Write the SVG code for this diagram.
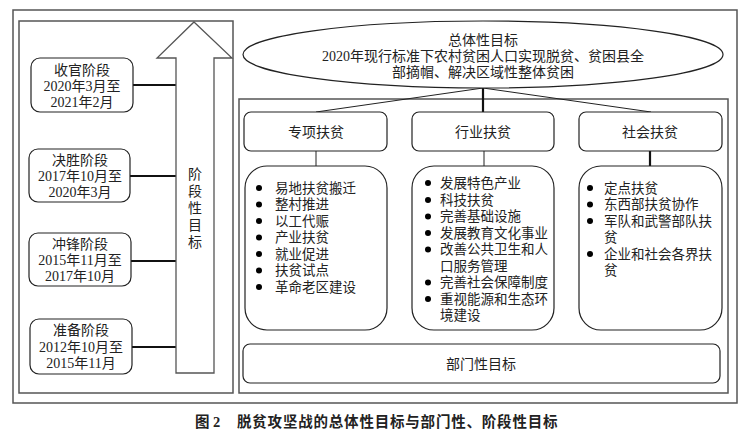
<svg xmlns="http://www.w3.org/2000/svg" width="751" height="439" viewBox="0 0 751 439">
<style>
text{font-family:"Liberation Serif","Noto Sans CJK SC",serif;fill:#222;dominant-baseline:central}
.t14{font-size:14px}
.t135{font-size:13.5px}
.frame{fill:none;stroke:#555;stroke-width:1.5}
.box{fill:#fff;stroke:#222;stroke-width:1.2}
.thin{stroke:#222;stroke-width:1;fill:none}
.thick{stroke:#111;stroke-width:2.2;fill:none}
.mid{text-anchor:middle}
</style>
<rect width="751" height="439" fill="#fff"/>
<g id="frames">
<rect class="frame" x="13" y="10" width="724" height="393"/>
<rect class="frame" x="19" y="21" width="214" height="372"/>
<rect class="frame" x="239" y="99" width="489" height="294"/>
</g>
<g id="connectors">
<line class="thin" x1="483" y1="88" x2="316" y2="112"/>
<line class="thick" x1="483" y1="88" x2="483" y2="112"/>
<line class="thin" x1="483" y1="88" x2="651" y2="112"/>
<line class="thin" x1="316" y1="151" x2="316" y2="166"/>
<line class="thin" x1="484" y1="151" x2="484" y2="166"/>
<line class="thick" x1="650" y1="151" x2="650" y2="166"/>
<line class="thick" x1="133" y1="85" x2="176" y2="85"/>
<line class="thick" x1="130" y1="176" x2="176" y2="176"/>
<line class="thick" x1="131" y1="261" x2="176" y2="261"/>
<line class="thick" x1="132" y1="347" x2="176" y2="347"/>
</g>
<g id="arrow">
<polygon points="194,22 232,58 214,58 214,373 176,373 176,58 157,58" fill="#fff" stroke="#555" stroke-width="1.3"/>
<text class="t14 mid" x="195" y="174">阶</text>
<text class="t14 mid" x="195" y="191">段</text>
<text class="t14 mid" x="195" y="208">性</text>
<text class="t14 mid" x="195" y="225">目</text>
<text class="t14 mid" x="195" y="242">标</text>
</g>
<g id="stage1">
<rect class="box" x="31" y="58" width="102" height="54" rx="9"/>
<text class="t14 mid" x="82" y="70">收官阶段</text>
<text class="t14 mid" x="82" y="86">2020年3月至</text>
<text class="t14 mid" x="82" y="102">2021年2月</text>
</g>
<g id="stage2">
<rect class="box" x="29" y="149" width="101" height="53" rx="9"/>
<text class="t14 mid" x="80" y="160">决胜阶段</text>
<text class="t14 mid" x="80" y="176">2017年10月至</text>
<text class="t14 mid" x="80" y="192">2020年3月</text>
</g>
<g id="stage3">
<rect class="box" x="29" y="233" width="102" height="53" rx="9"/>
<text class="t14 mid" x="80" y="244">冲锋阶段</text>
<text class="t14 mid" x="80" y="260">2015年11月至</text>
<text class="t14 mid" x="80" y="276">2017年10月</text>
</g>
<g id="stage4">
<rect class="box" x="30" y="319" width="102" height="55" rx="9"/>
<text class="t14 mid" x="81" y="330">准备阶段</text>
<text class="t14 mid" x="81" y="347">2012年10月至</text>
<text class="t14 mid" x="81" y="363">2015年11月</text>
</g>
<g id="overall">
<ellipse cx="483" cy="54.5" rx="240" ry="33.5" fill="#fff" stroke="#222" stroke-width="1.2"/>
<text class="t14 mid" x="483" y="40">总体性目标</text>
<text class="t14 mid" x="483" y="56">2020年现行标准下农村贫困人口实现脱贫、贫困县全</text>
<text class="t14 mid" x="483" y="72">部摘帽、解决区域性整体贫困</text>
</g>
<g id="head1">
<rect class="box" x="244" y="112" width="143" height="39" rx="7"/>
<text class="t14 mid" x="316" y="132">专项扶贫</text>
</g>
<g id="head2">
<rect class="box" x="412" y="112" width="142" height="39" rx="7"/>
<text class="t14 mid" x="483" y="132">行业扶贫</text>
</g>
<g id="head3">
<rect class="box" x="579" y="112" width="143" height="39" rx="7"/>
<text class="t14 mid" x="650" y="132">社会扶贫</text>
</g>
<g id="list1">
<rect class="box" x="245" y="166" width="142" height="164" rx="22"/>
<circle cx="259" cy="188" r="3"/><text class="t135" x="275" y="188">易地扶贫搬迁</text>
<circle cx="259" cy="204.5" r="3"/><text class="t135" x="275" y="204.5">整村推进</text>
<circle cx="259" cy="221" r="3"/><text class="t135" x="275" y="221">以工代赈</text>
<circle cx="259" cy="237.5" r="3"/><text class="t135" x="275" y="237.5">产业扶贫</text>
<circle cx="259" cy="254" r="3"/><text class="t135" x="275" y="254">就业促进</text>
<circle cx="259" cy="270.5" r="3"/><text class="t135" x="275" y="270.5">扶贫试点</text>
<circle cx="259" cy="287" r="3"/><text class="t135" x="275" y="287">革命老区建设</text>
</g>
<g id="list2">
<rect class="box" x="412" y="166" width="142" height="164" rx="22"/>
<circle cx="428" cy="183" r="3"/><text class="t135" x="440" y="183">发展特色产业</text>
<circle cx="428" cy="200" r="3"/><text class="t135" x="440" y="200">科技扶贫</text>
<circle cx="428" cy="216.5" r="3"/><text class="t135" x="440" y="216.5">完善基础设施</text>
<circle cx="428" cy="233" r="3"/><text class="t135" x="440" y="233">发展教育文化事业</text>
<circle cx="428" cy="249.5" r="3"/><text class="t135" x="440" y="249.5">改善公共卫生和人</text>
<text class="t135" x="440" y="266">口服务管理</text>
<circle cx="428" cy="282.5" r="3"/><text class="t135" x="440" y="282.5">完善社会保障制度</text>
<circle cx="428" cy="299" r="3"/><text class="t135" x="440" y="299">重视能源和生态环</text>
<text class="t135" x="440" y="315.5">境建设</text>
</g>
<g id="list3">
<rect class="box" x="579" y="166" width="143" height="164" rx="22"/>
<circle cx="590" cy="188" r="3"/><text class="t135" x="604" y="188">定点扶贫</text>
<circle cx="590" cy="204.5" r="3"/><text class="t135" x="604" y="204.5">东西部扶贫协作</text>
<circle cx="590" cy="221" r="3"/><text class="t135" x="604" y="221">军队和武警部队扶</text>
<text class="t135" x="604" y="237.5">贫</text>
<circle cx="590" cy="254" r="3"/><text class="t135" x="604" y="254">企业和社会各界扶</text>
<text class="t135" x="604" y="270.5">贫</text>
</g>
<g id="dept">
<rect class="box" x="243" y="344" width="477" height="39" rx="7"/>
<text class="t14 mid" x="481" y="364">部门性目标</text>
</g>
<g id="caption">
<text x="195" y="422" style="font-size:14.5px;font-weight:bold">图 2</text>
<text x="237" y="422" style="font-size:14.5px;font-weight:bold;letter-spacing:0.8px">脱贫攻坚战的总体性目标与部门性、阶段性目标</text>
</g>
</svg>
